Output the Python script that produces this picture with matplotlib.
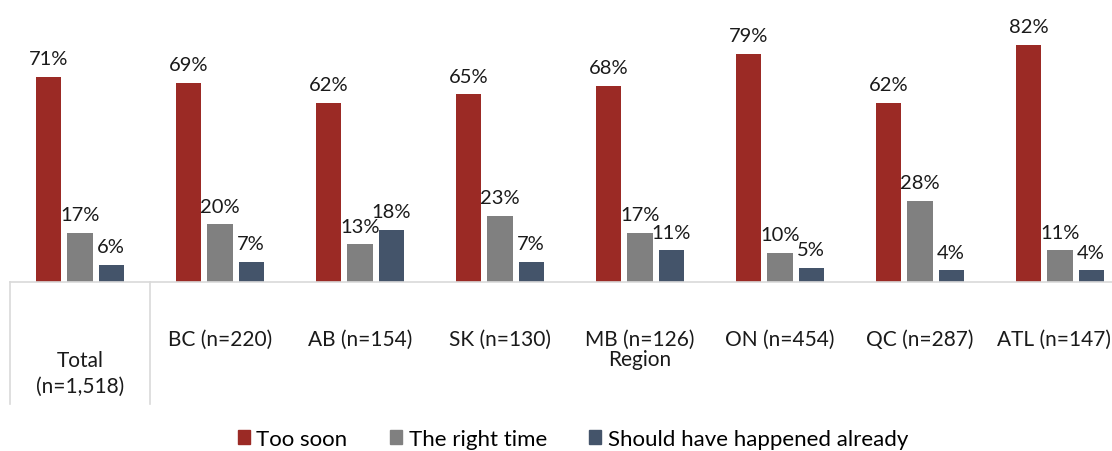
import matplotlib.pyplot as plt
from matplotlib.patches import Patch
import numpy as np

plt.rcParams['font.family'] = ['Lato', 'DejaVu Sans']

groups = ['Total\n(n=1,518)', 'BC (n=220)', 'AB (n=154)', 'SK (n=130)',
          'MB (n=126)', 'ON (n=454)', 'QC (n=287)', 'ATL (n=147)']
series = ['Too soon', 'The right time', 'Should have happened already']
too_soon = [71, 69, 62, 65, 68, 79, 62, 82]
right_time = [17, 20, 13, 23, 17, 10, 28, 11]
already = [6, 7, 18, 7, 11, 5, 4, 4]
colors = ['#9B2A25', '#808080', '#44546A']

W, H = 1112, 452
fig = plt.figure(figsize=(W / 100, H / 100), dpi=100)
ax = fig.add_axes([10 / W, 169 / H, 1120 / W, 283 / H])

x = np.arange(len(groups))
bw = 0.179
step = 0.222
for i, (vals, c) in enumerate(zip([too_soon, right_time, already], colors)):
    bars = ax.bar(x + (i - 1) * step, vals, width=bw, color=c, label=series[i])
    for b, v in zip(bars, vals):
        ax.annotate(f'{v}%', (b.get_x() + b.get_width() / 2, v),
                    xytext=(0, 7), textcoords='offset points',
                    ha='center', va='bottom', fontsize=14.5, color='#1a1a1a')

ax.set_xlim(-0.5, len(groups) - 0.5)
ax.set_ylim(0, 98)
ax.set_xticks([])
ax.set_yticks([])
for s in ['top', 'right', 'left']:
    ax.spines[s].set_visible(False)
ax.spines['bottom'].set_color('#D9D9D9')
ax.spines['bottom'].set_linewidth(1.2)

# category axis: separators and labels
tr = ax.get_xaxis_transform()
px = 1 / 283
for xs in [-0.5, 0.5]:
    ax.plot([xs, xs], [0, -122 * px], transform=tr, color='#D9D9D9',
            lw=1.2, clip_on=False)
for xi, g in zip(x[1:], groups[1:]):
    # last label sits right at the figure edge, nudge it in slightly
    xpos = xi - 0.04 if xi == x[-1] else xi
    ax.text(xpos, -57 * px, g, transform=tr, ha='center', va='center',
            fontsize=15, color='#1a1a1a')
ax.text(0, -91 * px, groups[0], transform=tr, ha='center', va='center',
        fontsize=15, color='#1a1a1a', linespacing=1.35)
ax.text(4, -77 * px, 'Region', transform=tr, ha='center', va='center',
        fontsize=15, color='#1a1a1a')

handles = [Patch(color=c, label=s) for c, s in zip(colors, series)]
fig.legend(handles=handles, loc='center', bbox_to_anchor=(573 / W, 1 - 440 / H),
           ncol=3, frameon=False, fontsize=16, handlelength=0.55,
           handleheight=0.55, handletextpad=0.3, columnspacing=1.9)

fig.savefig('out.png', dpi=100)
